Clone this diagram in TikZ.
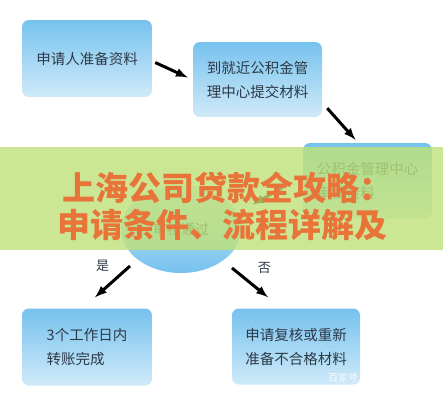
\documentclass[tikz,border=0pt]{standalone}
\usepackage{fontspec}
\setmainfont{Noto Sans CJK SC}
\usetikzlibrary{shapes.geometric}
\definecolor{boxtop}{RGB}{118,194,238}
\definecolor{boxbot}{RGB}{208,234,249}
\definecolor{txt}{RGB}{45,58,72}
\definecolor{band}{RGB}{190,225,120}
\definecolor{orangetxt}{RGB}{232,116,58}
\begin{document}
\begin{tikzpicture}[x=1pt, y=-1pt, >=latex,
  stepbox/.style={rounded corners=7pt, top color=boxtop, bottom color=boxbot,
    text=txt, font=\fontsize{14.5}{24}\selectfont, align=left, inner sep=0pt},
  arr/.style={->, line width=3pt, black},
  lbl/.style={text=txt, font=\fontsize{13}{13}\selectfont}]
\useasboundingbox (0,0) rectangle (443,400);
\fill[white] (0,0) rectangle (443,400);

\node[stepbox, minimum width=130pt, minimum height=77pt] (b1) at (87,58.5) {申请人准备资料};
\node[stepbox, minimum width=129pt, minimum height=75pt, align=center] (b2) at (257.5,79.5) {到就近公积金管\\理中心提交材料};
\node[stepbox, minimum width=129pt, minimum height=75pt] (b3) at (367.5,180.5) {公积金管理中心\\审核资料};
\node[ellipse, top color=boxbot, bottom color=boxtop, minimum width=120pt, minimum height=88pt,
  text=txt, font=\fontsize{14}{14}\selectfont, inner sep=0pt] (e) at (181,229) {\raisebox{-4pt}{审核通过}};
\node[stepbox, minimum width=130pt, minimum height=77pt] (b4) at (87,347) {3个工作日内\\转账完成};
\node[stepbox, minimum width=128pt, minimum height=76pt] (b5) at (296,346.5) {申请复核或重新\\准备不合格材料};
\node[white, font=\fontsize{10}{10}\selectfont, opacity=.85] (wm) at (343,378) {百家号};

\draw[arr] ([shift={(3,4)}]b1.east) -- ([shift={(-5,-2)}]b2.west);
\draw[arr] ([shift={(5,-9)}]b2.south east) -- ([shift={(-12,-3)}]b3.north);
\draw[arr] ([shift={(-20,7)}]b3.west) -- ([shift={(24,3)}]e.30);
\draw[arr] ([shift={(-51,37)}]e.center) -- ([shift={(8,-11)}]b4.north)
  node[lbl, pos=0, left=16pt] (yes) {是};
\draw[arr] ([shift={(51,39)}]e.center) -- ([shift={(-28,-11)}]b5.north)
  node[lbl, pos=0, right=21pt] (no) {否};

% overlay band
\fill[band, opacity=.8] (0,147) rectangle (443,250);
\node[text=orangetxt, font=\fontsize{33}{37}\selectfont\bfseries] (t1) at (227,188) {上海公司贷款全攻略：};
\node[text=orangetxt, font=\fontsize{33}{37}\selectfont\bfseries] (t2) at (222,225) {申请条件、流程详解及};

\end{tikzpicture}
\end{document}
